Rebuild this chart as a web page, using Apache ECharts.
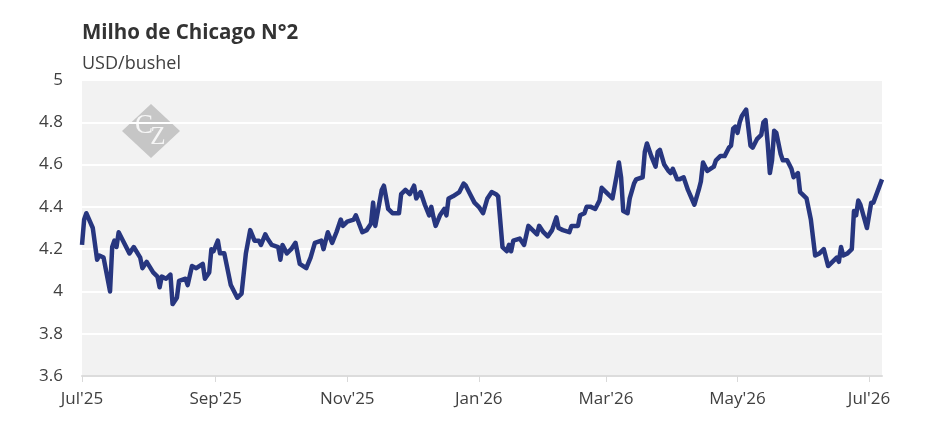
<!DOCTYPE html>
<html>
<head>
<meta charset="utf-8">
<title>Milho de Chicago N°2</title>
<script src="https://cdn.jsdelivr.net/npm/echarts@6/dist/echarts.min.js"></script>
<style>
    html, body { margin: 0; padding: 0; background: #fff; }
    #main { width: 945px; height: 443px; }
</style>
</head>
<body>
<div id="main"></div>
<script>
// Milho de Chicago N°2 - cotação diária (USD/bushel)

const dates = [
    '2025-07-01', '2025-07-02', '2025-07-03', '2025-07-06', '2025-07-08', '2025-07-09', '2025-07-11',
    '2025-07-14', '2025-07-15', '2025-07-16', '2025-07-17', '2025-07-18', '2025-07-20', '2025-07-23',
    '2025-07-25', '2025-07-28', '2025-07-29', '2025-07-31', '2025-08-03', '2025-08-05', '2025-08-06',
    '2025-08-07', '2025-08-09', '2025-08-11', '2025-08-12', '2025-08-14', '2025-08-15', '2025-08-18',
    '2025-08-19', '2025-08-21', '2025-08-23', '2025-08-26', '2025-08-27', '2025-08-29', '2025-08-30',
    '2025-08-31', '2025-09-02', '2025-09-03', '2025-09-05', '2025-09-08', '2025-09-09', '2025-09-11',
    '2025-09-13', '2025-09-15', '2025-09-17', '2025-09-19', '2025-09-21', '2025-09-22', '2025-09-24',
    '2025-09-25', '2025-09-27', '2025-09-30', '2025-10-01', '2025-10-02', '2025-10-04', '2025-10-06',
    '2025-10-08', '2025-10-10', '2025-10-13', '2025-10-15', '2025-10-17', '2025-10-20', '2025-10-21',
    '2025-10-23', '2025-10-25', '2025-10-27', '2025-10-29', '2025-10-30', '2025-11-01', '2025-11-04',
    '2025-11-05', '2025-11-08', '2025-11-10', '2025-11-12', '2025-11-13', '2025-11-14', '2025-11-17',
    '2025-11-18', '2025-11-20', '2025-11-22', '2025-11-25', '2025-11-26', '2025-11-28', '2025-11-30',
    '2025-12-02', '2025-12-03', '2025-12-05', '2025-12-07', '2025-12-09', '2025-12-10', '2025-12-11',
    '2025-12-12', '2025-12-14', '2025-12-16', '2025-12-17', '2025-12-18', '2025-12-20', '2025-12-23',
    '2025-12-25', '2025-12-26', '2025-12-28', '2025-12-30', '2026-01-01', '2026-01-03', '2026-01-05',
    '2026-01-07', '2026-01-09', '2026-01-10', '2026-01-12', '2026-01-14', '2026-01-15', '2026-01-16',
    '2026-01-17', '2026-01-20', '2026-01-22', '2026-01-24', '2026-01-26', '2026-01-28', '2026-01-29',
    '2026-01-31', '2026-02-02', '2026-02-04', '2026-02-06', '2026-02-07', '2026-02-09', '2026-02-12',
    '2026-02-13', '2026-02-16', '2026-02-17', '2026-02-19', '2026-02-20', '2026-02-22', '2026-02-24',
    '2026-02-26', '2026-02-27', '2026-03-01', '2026-03-04', '2026-03-06', '2026-03-07', '2026-03-08',
    '2026-03-09', '2026-03-11', '2026-03-12', '2026-03-14', '2026-03-15', '2026-03-18', '2026-03-19',
    '2026-03-20', '2026-03-22', '2026-03-24', '2026-03-25', '2026-03-26', '2026-03-28', '2026-03-30',
    '2026-03-31', '2026-04-01', '2026-04-03', '2026-04-04', '2026-04-06', '2026-04-08', '2026-04-11',
    '2026-04-13', '2026-04-14', '2026-04-15', '2026-04-17', '2026-04-20', '2026-04-21', '2026-04-23',
    '2026-04-25', '2026-04-27', '2026-04-28', '2026-04-29', '2026-04-30', '2026-05-01', '2026-05-02',
    '2026-05-03', '2026-05-05', '2026-05-07', '2026-05-08', '2026-05-10', '2026-05-12', '2026-05-13',
    '2026-05-14', '2026-05-15', '2026-05-16', '2026-05-17', '2026-05-18', '2026-05-19', '2026-05-21',
    '2026-05-22', '2026-05-24', '2026-05-26', '2026-05-27', '2026-05-29', '2026-05-30', '2026-05-31',
    '2026-06-02', '2026-06-04', '2026-06-06', '2026-06-08', '2026-06-10', '2026-06-12', '2026-06-14',
    '2026-06-16', '2026-06-17', '2026-06-18', '2026-06-19', '2026-06-21', '2026-06-23', '2026-06-24',
    '2026-06-25', '2026-06-26', '2026-06-27', '2026-06-30', '2026-07-02', '2026-07-03', '2026-07-07'
];

const prices = [
    4.22, 4.34, 4.37, 4.30, 4.15, 4.17, 4.16,
    4.00, 4.21, 4.24, 4.21, 4.28, 4.24, 4.18,
    4.21, 4.16, 4.11, 4.14, 4.09, 4.07, 4.02,
    4.07, 4.06, 4.08, 3.94, 3.97, 4.05, 4.06,
    4.03, 4.12, 4.11, 4.13, 4.06, 4.09, 4.20,
    4.19, 4.24, 4.18, 4.18, 4.03, 4.01, 3.97,
    3.99, 4.18, 4.29, 4.24, 4.24, 4.22, 4.27,
    4.25, 4.22, 4.21, 4.15, 4.22, 4.18, 4.20,
    4.23, 4.13, 4.11, 4.16, 4.23, 4.24, 4.20,
    4.28, 4.23, 4.28, 4.34, 4.31, 4.33, 4.34,
    4.36, 4.28, 4.29, 4.32, 4.42, 4.31, 4.48,
    4.50, 4.39, 4.37, 4.37, 4.46, 4.48, 4.46,
    4.50, 4.44, 4.47, 4.41, 4.36, 4.40, 4.35,
    4.31, 4.36, 4.39, 4.36, 4.44, 4.45, 4.47,
    4.51, 4.50, 4.46, 4.42, 4.40, 4.37, 4.44,
    4.47, 4.46, 4.45, 4.21, 4.19, 4.22, 4.19,
    4.24, 4.25, 4.22, 4.31, 4.29, 4.27, 4.31,
    4.28, 4.26, 4.29, 4.35, 4.30, 4.29, 4.28,
    4.31, 4.31, 4.36, 4.37, 4.40, 4.40, 4.39,
    4.43, 4.49, 4.47, 4.44, 4.55, 4.61, 4.54,
    4.38, 4.37, 4.44, 4.51, 4.53, 4.54, 4.66,
    4.70, 4.64, 4.59, 4.66, 4.67, 4.60, 4.57,
    4.56, 4.58, 4.53, 4.53, 4.54, 4.48, 4.41,
    4.48, 4.52, 4.61, 4.57, 4.59, 4.62, 4.64,
    4.64, 4.68, 4.69, 4.77, 4.78, 4.75, 4.80,
    4.83, 4.86, 4.69, 4.68, 4.72, 4.74, 4.80,
    4.81, 4.70, 4.56, 4.62, 4.76, 4.75, 4.65,
    4.62, 4.62, 4.58, 4.54, 4.56, 4.47, 4.46,
    4.44, 4.34, 4.17, 4.18, 4.20, 4.12, 4.14,
    4.16, 4.14, 4.21, 4.17, 4.18, 4.20, 4.38,
    4.36, 4.43, 4.41, 4.30, 4.42, 4.42, 4.53
];

// eixo x: marcas a cada dois meses
const tickDates = ['2025-07-01', '2025-09-01', '2025-11-01', '2026-01-01', '2026-03-01', '2026-05-01', '2026-07-01'];
const tickLabels = ["Jul'25", "Sep'25", "Nov'25", "Jan'26", "Mar'26", "May'26", "Jul'26"];

const xMin = '2025-07-01';
const xMax = '2026-07-07';
const yMin = 3.6;
const yMax = 5;
const yStep = 0.2;

function toTime(s) {
    const p = s.split('-');
    return new Date(+p[0], +p[1] - 1, +p[2]).getTime();
}

let MilhoChart = {
    init(divId) {
        this.chartDiv = document.getElementById(divId);
        this.chart = echarts.init(this.chartDiv, null, { renderer: 'canvas' });
        this.initChartOption();
        this.showChart();
    },
    initChartOption() {
        const tickTimes = tickDates.map(toTime);
        const seriesData = dates.map((d, i) => [toTime(d), prices[i]]);
        const font = '"Open Sans", "Noto Sans", sans-serif';
        const serif = '"Liberation Serif", "DejaVu Serif", serif';

        this.option = {
            animation: false,
            textStyle: { fontFamily: font },
            title: {
                text: 'Milho de Chicago N°2',
                subtext: 'USD/bushel',
                left: 82,
                top: 23,
                padding: 0,
                itemGap: 11,
                textStyle: { fontFamily: font, fontSize: 20.5, fontWeight: 'bold', color: '#333333' },
                subtextStyle: { fontFamily: font, fontSize: 18, color: '#404040' }
            },
            grid: {
                left: 82,
                right: 63,
                top: 80,
                bottom: 67,
                show: true,
                backgroundColor: '#f2f2f2',
                borderWidth: 0
            },
            xAxis: {
                // datas como timestamps num eixo de valores, marcas fixas
                type: 'value',
                min: toTime(xMin),
                max: toTime(xMax),
                axisLine: { show: true, lineStyle: { color: '#dcdcdc', width: 2 } },
                axisTick: {
                    show: true,
                    length: 6,
                    customValues: tickTimes,
                    lineStyle: { color: '#d9d9d9', width: 1 }
                },
                axisLabel: {
                    customValues: tickTimes,
                    margin: 15,
                    fontSize: 17,
                    color: '#404040',
                    fontFamily: font,
                    formatter: (v) => {
                        const i = tickTimes.indexOf(v);
                        return i >= 0 ? tickLabels[i] : '';
                    }
                },
                splitLine: { show: false }
            },
            yAxis: {
                type: 'value',
                min: yMin,
                max: yMax,
                interval: yStep,
                axisLine: { show: false },
                axisTick: { show: false },
                axisLabel: { margin: 19, fontSize: 17, color: '#404040', fontFamily: font },
                splitLine: { show: true, lineStyle: { color: '#ffffff', width: 2 } }
            },
            graphic: [
                {
                    // logo CZ
                    type: 'group',
                    left: 122,
                    top: 104,
                    z: 10,
                    children: [
                        {
                            type: 'polygon',
                            shape: { points: [[29, 0], [58, 27], [29, 54], [0, 27]] },
                            style: { fill: '#c6c6c6' }
                        },
                        {
                            type: 'text',
                            x: 22, y: 22,
                            style: {
                                text: 'C', font: '27px ' + serif, fill: '#f6f6f6',
                                align: 'center', verticalAlign: 'middle'
                            }
                        },
                        {
                            type: 'text',
                            x: 36, y: 33,
                            style: {
                                text: 'Z', font: '25px ' + serif, fill: '#f6f6f6',
                                align: 'center', verticalAlign: 'middle'
                            }
                        }
                    ]
                }
            ],
            series: [
                {
                    name: 'Milho de Chicago N°2',
                    type: 'line',
                    data: seriesData,
                    showSymbol: false,
                    symbol: 'none',
                    lineStyle: { color: '#27367f', width: 4.5, join: 'round' },
                    z: 5
                }
            ]
        };
    },
    showChart() {
        this.chart.setOption(this.option, true);
    }
};

MilhoChart.init('main');
</script>
</body>
</html>
